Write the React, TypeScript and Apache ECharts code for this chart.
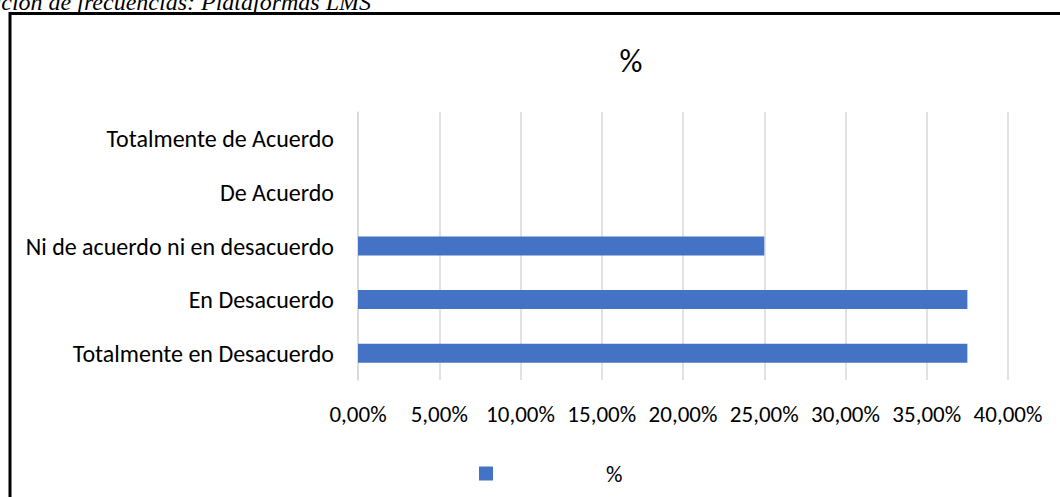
import React, { useEffect, useRef } from "react";
import * as echarts from "echarts";

const categories = [
  "Totalmente en Desacuerdo",
  "En Desacuerdo",
  "Ni de acuerdo ni en desacuerdo",
  "De Acuerdo",
  "Totalmente de Acuerdo",
];
const values = [37.5, 37.5, 25, 0, 0];
const seriesName = "%";
const headingText = "Distribución de frecuencias: Plataformas LMS";

export default function App() {
  const ref = useRef<HTMLDivElement>(null);
  useEffect(() => {
    if (!ref.current) return;
    const chart = echarts.init(ref.current, null, { renderer: "svg" });
    const labelFont = "Carlito, Lato, 'Open Sans', sans-serif";
    chart.setOption({
      animation: false,
      backgroundColor: "#ffffff",
      title: {
        text: "%",
        left: 626,
        top: 40,
        textAlign: "center",
        textStyle: { fontSize: 32, fontWeight: "normal", color: "#000", fontFamily: labelFont },
      },
      graphic: [
        {
          type: "text",
          x: 371,
          y: 14,
          style: {
            text: headingText,
            align: "right",
            verticalAlign: "bottom",
            font: "italic 24px 'Liberation Serif', 'Times New Roman', serif",
            fill: "#000",
          },
        },
        {
          type: "rect",
          shape: { x: 10, y: 13.5, width: 1100, height: 600 },
          style: { fill: "none", stroke: "#000", lineWidth: 3 },
          silent: true,
        },
      ],
      legend: {
        data: [seriesName],
        left: 474,
        top: 457,
        itemWidth: 14,
        itemHeight: 14,
        icon: "rect",
        textStyle: {
          fontSize: 23,
          color: "#000",
          fontFamily: labelFont,
          padding: [0, 0, 0, 108],
        },
      },
      grid: { left: 358, right: 52, top: 112, bottom: 117, containLabel: false },
      xAxis: {
        type: "value",
        min: 0,
        max: 40,
        interval: 5,
        axisLine: { show: false },
        axisTick: { show: false },
        splitLine: { show: true, lineStyle: { color: "#d9d9d9", width: 1.5 } },
        axisLabel: {
          formatter: (v: number) => v.toFixed(2).replace(".", ",") + "%",
          fontSize: 23,
          color: "#000",
          fontFamily: labelFont,
          margin: 22,
        },
      },
      yAxis: {
        type: "category",
        data: categories,
        axisLine: { show: true, lineStyle: { color: "#d9d9d9", width: 1.5 } },
        axisTick: { show: false },
        axisLabel: { fontSize: 24, color: "#000", fontFamily: labelFont, margin: 24 },
      },
      series: [
        {
          name: seriesName,
          type: "bar",
          data: values,
          barWidth: 19,
          itemStyle: { color: "#4472C4" },
        },
      ],
    });
    return () => chart.dispose();
  }, []);
  return (
    <div
      ref={ref}
      style={{ position: "fixed", left: 0, top: 0, width: 1060, height: 497 }}
    />
  );
}
